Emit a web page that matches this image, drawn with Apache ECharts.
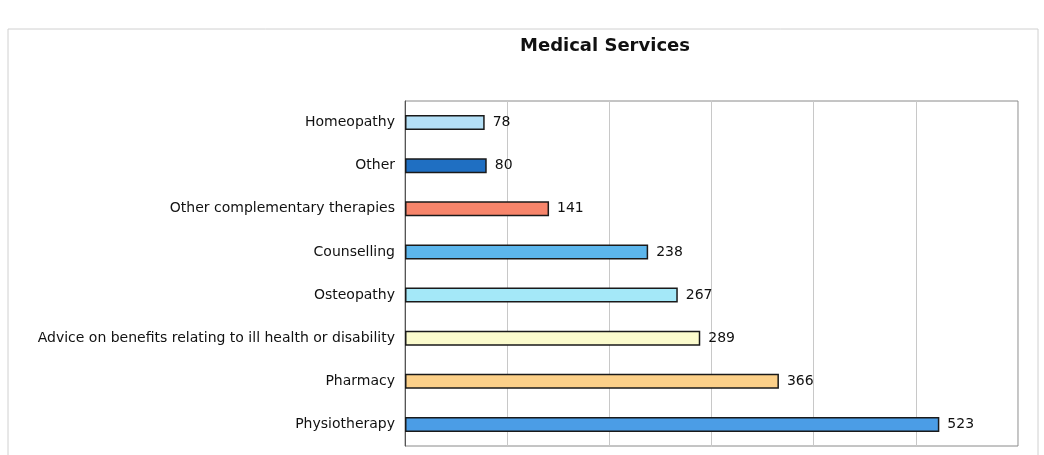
<!DOCTYPE html>
<html>
<head>
<meta charset="utf-8">
<script src="https://cdn.jsdelivr.net/npm/echarts@6/dist/echarts.min.js"></script>
<style>html,body{margin:0;padding:0;background:#fff;}#c{width:1044px;height:455px;}</style>
</head>
<body>
<div id="c"></div>
<script>
const categories = ["Homeopathy","Other","Other complementary therapies","Counselling","Osteopathy","Advice on benefits relating to ill health or disability","Pharmacy","Physiotherapy"];
const values = [78, 80, 141, 238, 267, 289, 366, 523];
const barColors = ["#b4e0f7","#1f6fc2","#f7856b","#5cb6ec","#a4e8f8","#fbfbcd","#fcd089","#4b9de6"];

const chart = echarts.init(document.getElementById('c'), null, {renderer:'canvas'});
chart.setOption({
  backgroundColor: '#ffffff',
  animation: false,
  title: {
    text: 'Medical Services',
    left: 600, top: 32, textAlign: 'center',
    textStyle: {fontFamily: 'DejaVu Sans', fontWeight: 'bold', fontSize: 18, color: '#111'}
  },
  graphic: [{
    type: 'rect', shape: {x: 8, y: 29, width: 1030, height: 440},
    style: {fill: 'none', stroke: '#d0d0d0', lineWidth: 1}, z: -1
  }],
  grid: {left: 405, right: 26, top: 101, bottom: 9, show: true, borderColor: '#8a8a8a', borderWidth: 1, containLabel: false},
  xAxis: {
    type: 'value', min: 0, max: 600, interval: 100,
    axisLabel: {show: false}, axisTick: {show: false}, axisLine: {show: false},
    splitLine: {show: true, lineStyle: {color: '#c8c8c8', width: 1}}
  },
  yAxis: {
    type: 'category', data: categories, inverse: true,
    axisLine: {show: true, lineStyle: {color: '#555', width: 1}},
    axisTick: {show: false},
    axisLabel: {fontFamily: 'DejaVu Sans', fontSize: 14, color: '#111', margin: 10}
  },
  series: [{
    type: 'bar',
    data: values.map((v, i) => ({value: v, itemStyle: {color: barColors[i]}})),
    barWidth: 15,
    itemStyle: {borderColor: '#1a1a1a', borderWidth: 1.5},
    label: {show: true, position: 'right', distance: 8, fontFamily: 'DejaVu Sans', fontSize: 14, color: '#111'}
  }]
});
</script>
</body>
</html>
